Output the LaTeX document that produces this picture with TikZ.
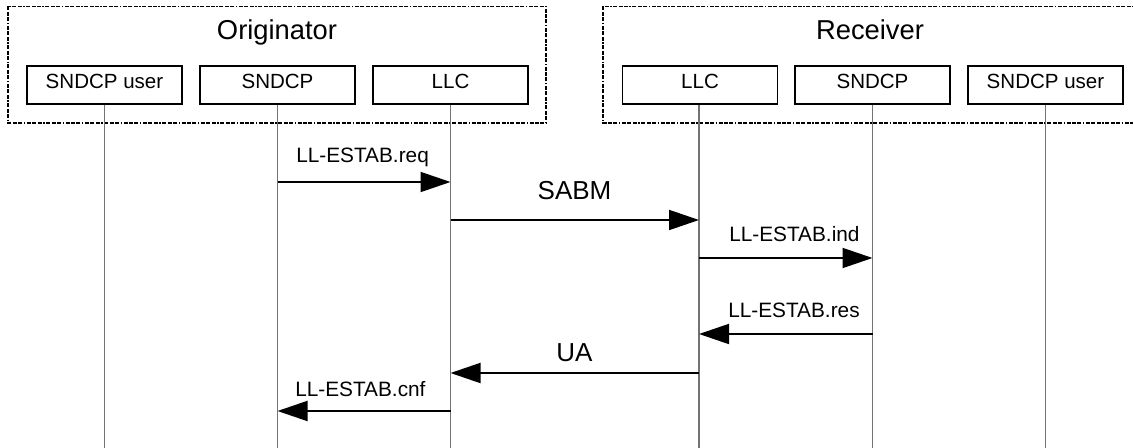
\documentclass[tikz,border=0pt]{standalone}
\usepackage{fontspec}
\setmainfont{Liberation Sans}
\usetikzlibrary{arrows.meta}
\begin{document}
\begin{tikzpicture}[x=0.75pt,y=-0.75pt,
  entity/.style={draw=black, line width=1.4pt, fill=white, inner sep=0pt,
    minimum width=116.25pt, minimum height=28.5pt,
    text height=11pt, text depth=5.5pt,
    font=\fontsize{15.4pt}{18pt}\selectfont},
  group/.style={draw=black, line width=1.1pt,
    dash pattern=on 3pt off 1.1pt on 3pt off 1.1pt on 3pt off 1.1pt on 1.1pt off 1.1pt},
  title/.style={anchor=base, inner sep=0pt, font=\fontsize{20.5pt}{24pt}\selectfont},
  lifeline/.style={draw=black!55, line width=0.9pt},
  msg/.style={draw=black, line width=1.4pt, -{Triangle[length=22.5pt,width=15pt]}},
  small/.style={anchor=base west, inner sep=0pt, font=\fontsize{15.6pt}{18pt}\selectfont},
  big/.style={anchor=base, inner sep=0pt, font=\fontsize{19.5pt}{23pt}\selectfont}
]
\useasboundingbox (0,0) rectangle (1133,448);
\clip (0,0) rectangle (1133,448);

% groups
\draw[group] (8,6.5) rectangle (546,123);
\draw[group] (603,6.5) rectangle (1137,123);
\node[title] (torig) at (277,40) {Originator};
\node[title] (trecv) at (870,40) {Receiver};

% entities
\node[entity] (userL) at (104.5,85) {SNDCP user};
\node[entity] (sndcpL) at (277.5,85) {SNDCP};
\node[entity] (llcL) at (450.5,85) {LLC};
\node[entity] (llcR) at (700,85) {LLC};
\node[entity] (sndcpR) at (872.5,85) {SNDCP};
\node[entity] (userR) at (1045.5,85) {SNDCP user};

% lifeline ends
\coordinate (eUserL) at (104.5,448);
\coordinate (eSndcpL) at (277.5,448);
\coordinate (eLlcL) at (450.5,448);
\coordinate (eLlcR) at (699,448);
\coordinate (eSndcpR) at (872.5,448);
\coordinate (eUserR) at (1045.5,448);

\draw[lifeline] (userL.south) -- (eUserL);
\draw[lifeline] (sndcpL.south) -- (eSndcpL);
\draw[lifeline] (llcL.south) -- (eLlcL);
\draw[lifeline] (llcR.south -| eLlcR) -- (eLlcR);
\draw[lifeline] (sndcpR.south) -- (eSndcpR);
\draw[lifeline] (userR.south) -- (eUserR);

% message points
\coordinate (reqA) at (277.5,182);
\coordinate (reqB) at (450.5,182);
\coordinate (sabmA) at (450.5,220);
\coordinate (sabmB) at (699,220);
\coordinate (indA) at (699,258);
\coordinate (indB) at (872.5,258);
\coordinate (resA) at (872.5,334);
\coordinate (resB) at (699,334);
\coordinate (uaA) at (699,373);
\coordinate (uaB) at (450.5,373);
\coordinate (cnfA) at (450.5,411);
\coordinate (cnfB) at (277.5,411);

\draw[msg] (reqA) -- (reqB);
\draw[msg] (sabmA) -- (sabmB);
\draw[msg] (indA) -- (indB);
\draw[msg] (resA) -- (resB);
\draw[msg] (uaA) -- (uaB);
\draw[msg] (cnfA) -- (cnfB);

\node[small] (lreq) at (296,162.5) {LL-ESTAB.req};
\node[big] (lsabm) at (574.5,199.3) {SABM};
\node[small] (lind) at (729,241.7) {LL-ESTAB.ind};
\node[small] (lres) at (728,318) {LL-ESTAB.res};
\node[big] (lua) at (574.5,361.7) {UA};
\node[small] (lcnf) at (295,396.7) {LL-ESTAB.cnf};
\end{tikzpicture}
\end{document}
